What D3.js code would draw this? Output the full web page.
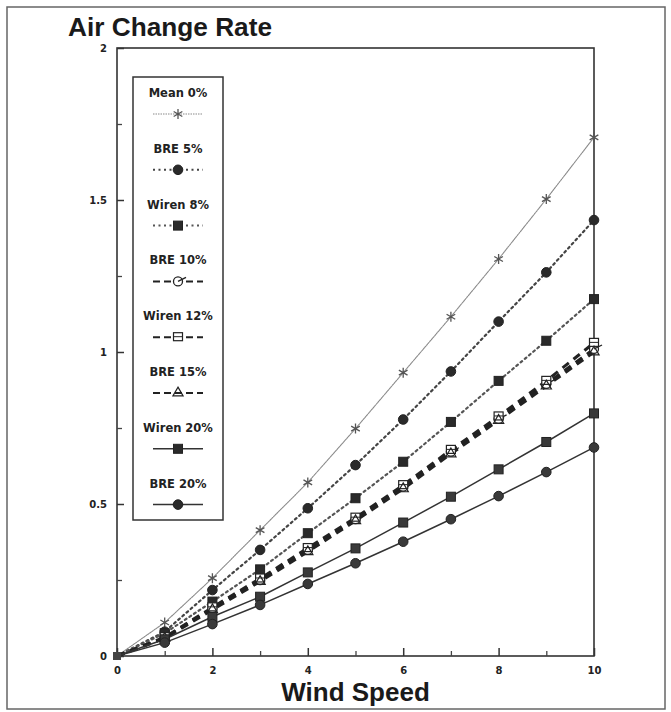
<!DOCTYPE html>
<html>
<head>
<meta charset="utf-8">
<script src="https://cdn.jsdelivr.net/npm/d3@7"></script>
<style>
  body { margin: 0; background: #fff; }
  svg { display: block; }
  .tick text { font-family: "DejaVu Sans", sans-serif; font-weight: bold; font-size: 10px; fill: #222; }
  .domain { display: none; }
</style>
</head>
<body>
<svg id="canvas" width="671" height="712"></svg>
<script>
// wind speeds on the x axis
const speeds = [0, 1, 2, 3, 4, 5, 6, 7, 8, 9, 10];

// air change rate for each case
const mean0   = [0, 0.110, 0.256, 0.414, 0.571, 0.748, 0.932, 1.116, 1.306, 1.503, 1.706];
const bre5    = [0, 0.080, 0.217, 0.349, 0.486, 0.628, 0.778, 0.936, 1.100, 1.262, 1.434];
const wiren8  = [0, 0.075, 0.179, 0.285, 0.404, 0.519, 0.639, 0.770, 0.905, 1.037, 1.174];
const bre10   = [0, 0.060, 0.157, 0.250, 0.349, 0.450, 0.557, 0.672, 0.780, 0.895, 1.010];
const wiren12 = [0, 0.062, 0.160, 0.255, 0.355, 0.455, 0.562, 0.678, 0.788, 0.905, 1.030];
const bre15   = [0, 0.058, 0.152, 0.245, 0.343, 0.445, 0.550, 0.665, 0.775, 0.888, 1.000];
const wiren20 = [0, 0.055, 0.129, 0.195, 0.275, 0.354, 0.439, 0.524, 0.614, 0.704, 0.798];
const bre20   = [0, 0.044, 0.105, 0.168, 0.237, 0.305, 0.376, 0.450, 0.526, 0.605, 0.686];

const seriesNames = ['Mean 0%', 'BRE 5%', 'Wiren 8%', 'BRE 10%', 'Wiren 12%', 'BRE 15%', 'Wiren 20%', 'BRE 20%'];
const seriesValues = [mean0, bre5, wiren8, bre10, wiren12, bre15, wiren20, bre20];

const xTicks = [0, 2, 4, 6, 8, 10];
const yTicks = [0, 0.5, 1, 1.5, 2];

// how each series is drawn
const styles = [
  {stroke: '#8a8a8a', width: 1.1, dash: '1.5,1', marker: 'star'},
  {stroke: '#444', width: 2.2, dash: '2,3.5', marker: 'circle'},
  {stroke: '#555', width: 2.2, dash: '2,3.5', marker: 'square'},
  {stroke: '#222', width: 3, dash: '8,6', marker: 'opencircle'},
  {stroke: '#222', width: 3, dash: '8,6', marker: 'opensquare'},
  {stroke: '#222', width: 3, dash: '8,6', marker: 'triangle'},
  {stroke: '#333', width: 1.5, dash: null, marker: 'square'},
  {stroke: '#333', width: 1.5, dash: null, marker: 'circle'}
];

const svg = d3.select('#canvas');

// outer frame of the figure
svg.append('rect')
  .attr('x', 7).attr('y', 7).attr('width', 658).attr('height', 702)
  .attr('fill', 'none').attr('stroke', '#666').attr('stroke-width', 1.5);

const x = d3.scaleLinear().domain([0, 10]).range([117, 594]);
const y = d3.scaleLinear().domain([0, 2]).range([656, 48]);

// plot frame
svg.append('rect')
  .attr('x', x(0)).attr('y', y(2))
  .attr('width', x(10) - x(0)).attr('height', y(0) - y(2))
  .attr('fill', 'none').attr('stroke', '#333').attr('stroke-width', 1.6);

// major and minor ticks point inwards
svg.append('g')
  .attr('transform', 'translate(' + x(0) + ',0)')
  .call(d3.axisLeft(y).tickValues(yTicks).tickSize(-7).tickPadding(10).tickFormat(d3.format('')))
  .selectAll('line').attr('stroke', '#333').attr('stroke-width', 1.5);

svg.append('g')
  .attr('transform', 'translate(' + x(0) + ',0)')
  .call(d3.axisLeft(y).tickValues([0.25, 0.75, 1.25, 1.75]).tickSize(-5).tickFormat(''))
  .selectAll('line').attr('stroke', '#444').attr('stroke-width', 1.3);

svg.append('g')
  .attr('transform', 'translate(0,' + y(0) + ')')
  .call(d3.axisBottom(x).tickValues(xTicks).tickSize(-8).tickPadding(11))
  .selectAll('line').attr('stroke', '#333').attr('stroke-width', 1.5);

svg.append('g')
  .attr('transform', 'translate(0,' + y(0) + ')')
  .call(d3.axisBottom(x).tickValues([1, 3, 5, 7, 9]).tickSize(-5).tickFormat(''))
  .selectAll('line').attr('stroke', '#444').attr('stroke-width', 1.3);

// titles
svg.append('text')
  .attr('x', 68).attr('y', 36)
  .attr('font-family', 'Liberation Sans, Arial, sans-serif')
  .attr('font-size', 25).attr('font-weight', 'bold').attr('fill', '#1a1a1a')
  .attr('textLength', 204).attr('lengthAdjust', 'spacingAndGlyphs')
  .text('Air Change Rate');

svg.append('text')
  .attr('x', (x(0) + x(10)) / 2).attr('y', 701)
  .attr('text-anchor', 'middle')
  .attr('font-family', 'Liberation Sans, Arial, sans-serif')
  .attr('font-size', 26).attr('font-weight', 'bold').attr('fill', '#1a1a1a')
  .text('Wind Speed');

// draws one marker centred on cx, cy
const drawMarker = (g, type, cx, cy, color) => {
  if (type === 'star') {
    g.append('path')
      .attr('d', d3.symbol(d3.symbolAsterisk, 70)())
      .attr('transform', 'translate(' + cx + ',' + cy + ')')
      .attr('fill', 'none').attr('stroke', '#555').attr('stroke-width', 1.3);
  } else if (type === 'circle') {
    g.append('circle').attr('cx', cx).attr('cy', cy).attr('r', 4.8)
      .attr('fill', color).attr('stroke', '#222').attr('stroke-width', 1);
  } else if (type === 'square') {
    g.append('rect').attr('x', cx - 4.5).attr('y', cy - 4.5).attr('width', 9).attr('height', 9)
      .attr('fill', color).attr('stroke', '#222').attr('stroke-width', 1);
  } else if (type === 'opencircle') {
    g.append('circle').attr('cx', cx).attr('cy', cy).attr('r', 4.5)
      .attr('fill', '#fff').attr('stroke', '#222').attr('stroke-width', 1.3);
    g.append('line').attr('x1', cx).attr('y1', cy).attr('x2', cx + 8).attr('y2', cy - 4)
      .attr('stroke', '#222').attr('stroke-width', 1.3);
  } else if (type === 'opensquare') {
    g.append('rect').attr('x', cx - 4.5).attr('y', cy - 4.5).attr('width', 9).attr('height', 8)
      .attr('fill', '#fff').attr('stroke', '#222').attr('stroke-width', 1.2);
    g.append('line').attr('x1', cx - 4.5).attr('y1', cy - 0.5).attr('x2', cx + 4.5).attr('y2', cy - 0.5)
      .attr('stroke', '#222').attr('stroke-width', 1);
  } else if (type === 'triangle') {
    g.append('path')
      .attr('d', d3.symbol(d3.symbolTriangle, 45)())
      .attr('transform', 'translate(' + cx + ',' + cy + ')')
      .attr('fill', 'none').attr('stroke', '#222').attr('stroke-width', 1.2);
  }
};

const line = d3.line()
  .x((d, i) => x(speeds[i]))
  .y((d) => y(d));

// lines first, then markers on top
seriesValues.forEach((values, s) => {
  const st = styles[s];
  svg.append('path')
    .datum(values)
    .attr('d', line)
    .attr('fill', 'none')
    .attr('stroke', st.stroke)
    .attr('stroke-width', st.width)
    .attr('stroke-dasharray', st.dash)
    .attr('stroke-linecap', st.dash && st.width < 2.5 ? 'round' : 'butt');
});

seriesValues.forEach((values, s) => {
  const st = styles[s];
  const g = svg.append('g');
  values.forEach((v, i) => {
    if (i === 0) return;
    drawMarker(g, st.marker, x(speeds[i]), y(v), s < 3 ? '#2a2a2a' : '#3a3a3a');
  });
});

// little cluster at the origin
svg.append('rect').attr('x', x(0) - 4).attr('y', y(0) - 4).attr('width', 8).attr('height', 8)
  .attr('fill', '#444');

// legend box
const legX = 133, legY = 77, legW = 90, legH = 443;
const legend = svg.append('g');
legend.append('rect')
  .attr('x', legX).attr('y', legY).attr('width', legW).attr('height', legH)
  .attr('fill', '#fff').attr('stroke', '#333').attr('stroke-width', 1.5);

const legCx = legX + legW / 2;
seriesNames.forEach((name, s) => {
  const st = styles[s];
  const ty = 97 + s * 55.8;
  legend.append('text')
    .attr('x', legCx).attr('y', ty)
    .attr('text-anchor', 'middle')
    .attr('font-family', 'DejaVu Sans, sans-serif')
    .attr('font-weight', 'bold').attr('font-size', 11.5).attr('fill', '#222')
    .text(name);
  const sy = ty + 17;
  legend.append('line')
    .attr('x1', legCx - 25).attr('x2', legCx + 25)
    .attr('y1', sy).attr('y2', sy)
    .attr('stroke', st.stroke)
    .attr('stroke-width', Math.min(st.width, 2))
    .attr('stroke-dasharray', st.dash ? (st.width > 2.5 ? '7,4' : st.dash) : null);
  drawMarker(legend, st.marker, legCx, sy, '#2a2a2a');
});
</script>
</body>
</html>
